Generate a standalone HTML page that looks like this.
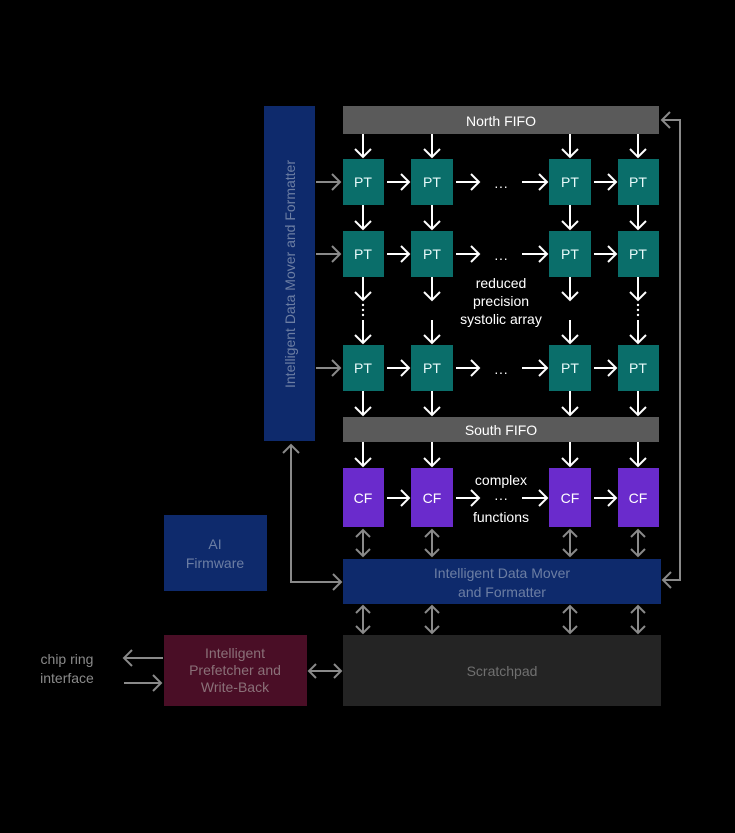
<!DOCTYPE html>
<html><head><meta charset="utf-8"><style>
html,body{margin:0;padding:0;background:#000;}
svg{display:block;}
text{font-family:"Liberation Sans",sans-serif;}
</style></head><body>
<svg width="735" height="833" viewBox="0 0 735 833" xmlns="http://www.w3.org/2000/svg">
<rect width="735" height="833" fill="#000"/>
<rect x="264" y="106" width="51" height="335" fill="#0e2a6c"/>
<text transform="translate(295,274) rotate(-90)" text-anchor="middle" font-size="14" fill="#6c7ea3">Intelligent Data Mover and Formatter</text>
<rect x="343" y="106" width="316" height="28" fill="#5a5a5a"/>
<text x="501" y="126" text-anchor="middle" font-size="14" fill="#fff">North FIFO</text>
<rect x="343" y="417" width="316" height="25" fill="#5a5a5a"/>
<text x="501" y="435" text-anchor="middle" font-size="14" fill="#fff">South FIFO</text>

<g fill="#0a6e6a">
<rect x="343" y="159" width="41" height="46"/><rect x="411" y="159" width="42" height="46"/><rect x="549" y="159" width="42" height="46"/><rect x="618" y="159" width="41" height="46"/>
<rect x="343" y="231" width="41" height="46"/><rect x="411" y="231" width="42" height="46"/><rect x="549" y="231" width="42" height="46"/><rect x="618" y="231" width="41" height="46"/>
<rect x="343" y="345" width="41" height="46"/><rect x="411" y="345" width="42" height="46"/><rect x="549" y="345" width="42" height="46"/><rect x="618" y="345" width="41" height="46"/>
</g>
<g font-size="14" fill="#e8fafa" text-anchor="middle">
<text x="363" y="187">PT</text><text x="432" y="187">PT</text><text x="570" y="187">PT</text><text x="638" y="187">PT</text>
<text x="363" y="259">PT</text><text x="432" y="259">PT</text><text x="570" y="259">PT</text><text x="638" y="259">PT</text>
<text x="363" y="373">PT</text><text x="432" y="373">PT</text><text x="570" y="373">PT</text><text x="638" y="373">PT</text>
</g>
<g fill="#6a2bcc">
<rect x="343" y="468" width="41" height="59"/><rect x="411" y="468" width="42" height="59"/><rect x="549" y="468" width="42" height="59"/><rect x="618" y="468" width="41" height="59"/>
</g>
<g font-size="14" fill="#fff" text-anchor="middle">
<text x="363" y="503">CF</text><text x="432" y="503">CF</text><text x="570" y="503">CF</text><text x="638" y="503">CF</text>
<text x="501" y="288">reduced</text><text x="501" y="306">precision</text><text x="501" y="324">systolic array</text>
<text x="501" y="485">complex</text><text x="501" y="522">functions</text>
<text x="501" y="191">···</text><text x="501" y="263">···</text><text x="501" y="377">···</text><text x="501" y="503">···</text>
</g>

<rect x="343" y="559" width="318" height="45" fill="#0e2a6c"/>
<text x="502" y="578" text-anchor="middle" font-size="14" fill="#6c7ea3">Intelligent Data Mover</text>
<text x="502" y="597" text-anchor="middle" font-size="14" fill="#6c7ea3">and Formatter</text>
<rect x="343" y="635" width="318" height="71" fill="#242424"/>
<text x="502" y="676" text-anchor="middle" font-size="14" fill="#707070">Scratchpad</text>
<rect x="164" y="515" width="103" height="76" fill="#0e2a6c"/>
<text x="215" y="549" text-anchor="middle" font-size="14" fill="#6c7ea3">AI</text>
<text x="215" y="568" text-anchor="middle" font-size="14" fill="#6c7ea3">Firmware</text>
<rect x="164" y="635" width="143" height="71" fill="#4a0e26"/>
<text x="235" y="658" text-anchor="middle" font-size="14" fill="#8a7078">Intelligent</text>
<text x="235" y="675" text-anchor="middle" font-size="14" fill="#8a7078">Prefetcher and</text>
<text x="235" y="692" text-anchor="middle" font-size="14" fill="#8a7078">Write-Back</text>
<text x="67" y="664" text-anchor="middle" font-size="14" fill="#8a8a8a">chip ring</text>
<text x="67" y="683" text-anchor="middle" font-size="14" fill="#8a8a8a">interface</text>

<g stroke="#fff" stroke-width="2" fill="none">
<path d="M363 134V157M355 149l8 8 8-8 M432 134V157M424 149l8 8 8-8 M570 134V157M562 149l8 8 8-8 M638 134V157M630 149l8 8 8-8"/>
<path d="M363 205V229M355 221l8 8 8-8 M432 205V229M424 221l8 8 8-8 M570 205V229M562 221l8 8 8-8 M638 205V229M630 221l8 8 8-8"/>
<path d="M363 277V300M355 292l8 8 8-8 M432 277V300M424 292l8 8 8-8 M570 277V300M562 292l8 8 8-8 M638 277V300M630 292l8 8 8-8"/>
<path d="M363 320V343M355 335l8 8 8-8 M432 320V343M424 335l8 8 8-8 M570 320V343M562 335l8 8 8-8 M638 320V343M630 335l8 8 8-8"/>
<path d="M363 391V415M355 407l8 8 8-8 M432 391V415M424 407l8 8 8-8 M570 391V415M562 407l8 8 8-8 M638 391V415M630 407l8 8 8-8"/>
<path d="M363 442V466M355 458l8 8 8-8 M432 442V466M424 458l8 8 8-8 M570 442V466M562 458l8 8 8-8 M638 442V466M630 458l8 8 8-8"/>
<path d="M387 182H409M401 174l8 8-8 8 M456 182H479M471 174l8 8-8 8 M522 182H547M539 174l8 8-8 8 M594 182H616M608 174l8 8-8 8"/>
<path d="M387 254H409M401 246l8 8-8 8 M456 254H479M471 246l8 8-8 8 M522 254H547M539 246l8 8-8 8 M594 254H616M608 246l8 8-8 8"/>
<path d="M387 368H409M401 360l8 8-8 8 M456 368H479M471 360l8 8-8 8 M522 368H547M539 360l8 8-8 8 M594 368H616M608 360l8 8-8 8"/>
<path d="M387 498H409M401 490l8 8-8 8 M456 498H479M471 490l8 8-8 8 M522 498H547M539 490l8 8-8 8 M594 498H616M608 490l8 8-8 8"/>
</g>
<g fill="#fff">
<circle cx="363" cy="305" r="1.2"/><circle cx="363" cy="310" r="1.2"/><circle cx="363" cy="315" r="1.2"/>
<circle cx="638" cy="305" r="1.2"/><circle cx="638" cy="310" r="1.2"/><circle cx="638" cy="315" r="1.2"/>
</g>
<g stroke="#8a8a8a" stroke-width="2" fill="none">
<path d="M316 182H340M332 174l8 8-8 8 M316 254H340M332 246l8 8-8 8 M316 368H340M332 360l8 8-8 8"/>
<path d="M662 120H680V580H663 M670 112l-8 8 8 8 M671 572l-8 8 8 8"/>
<path d="M291 445V582H341 M283 453l8-8 8 8 M333 574l8 8-8 8"/>
<path d="M363 530V556M356 537l7-7 7 7M356 549l7 7 7-7 M432 530V556M425 537l7-7 7 7M425 549l7 7 7-7 M570 530V556M563 537l7-7 7 7M563 549l7 7 7-7 M638 530V556M631 537l7-7 7 7M631 549l7 7 7-7"/>
<path d="M363 606V633M356 613l7-7 7 7M356 626l7 7 7-7 M432 606V633M425 613l7-7 7 7M425 626l7 7 7-7 M570 606V633M563 613l7-7 7 7M563 626l7 7 7-7 M638 606V633M631 613l7-7 7 7M631 626l7 7 7-7"/>
<path d="M309 671H341M316 664l-7 7 7 7M334 664l7 7-7 7"/>
<path d="M124 658H163M132 650l-8 8 8 8 M124 683H161M153 675l8 8-8 8"/>
</g>
</svg>
</body></html>
